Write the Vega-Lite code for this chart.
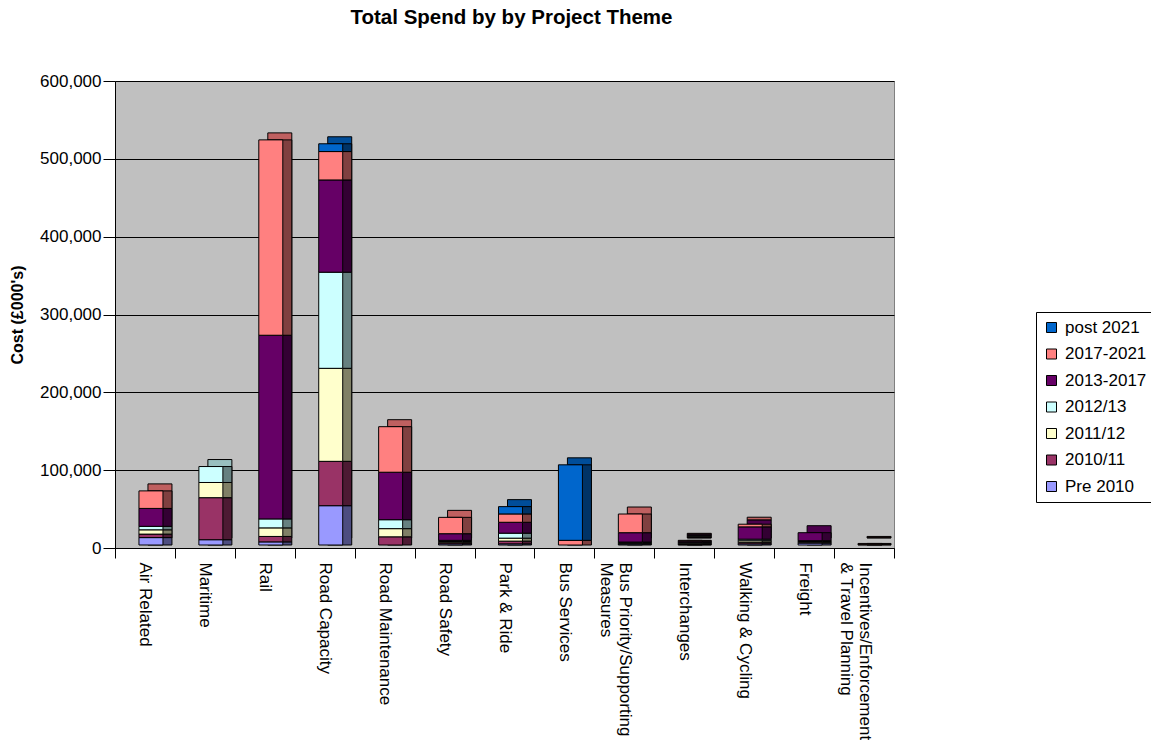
{
  "$schema": "https://vega.github.io/schema/vega-lite/v6.json",
  "width": 779,
  "height": 467,
  "autosize": {"type": "none"},
  "padding": {"left": 115, "top": 81, "right": 257, "bottom": 196},
  "background": "white",
  "config": {
    "font": "Liberation Sans",
    "view": {"fill": "#C0C0C0", "stroke": "#808080"},
    "legend": {
      "orient": "none",
      "legendX": 921,
      "legendY": 231,
      "labelFontSize": 17,
      "labelColor": "black",
      "symbolType": "square",
      "symbolSize": 100,
      "symbolStrokeColor": "black",
      "symbolStrokeWidth": 1,
      "strokeColor": "black",
      "fillColor": "white",
      "padding": 7,
      "rowPadding": 8.5,
      "labelOffset": 5,
      "symbolOpacity": 1
    }
  },
  "title": {
    "text": "Total Spend by by Project Theme",
    "fontSize": 20.5,
    "fontWeight": "bold",
    "color": "black",
    "anchor": "middle",
    "offset": 44,
    "dx": 7
  },
  "datasets": {
    "periods": [
      {"period": "Pre 2010", "rank": 1},
      {"period": "2010/11", "rank": 2},
      {"period": "2011/12", "rank": 3},
      {"period": "2012/13", "rank": 4},
      {"period": "2013-2017", "rank": 5},
      {"period": "2017-2021", "rank": 6},
      {"period": "post 2021", "rank": 7}
    ],
    "spend": [
      {"theme": "Air Related", "period": "Pre 2010", "cost": 9500},
      {"theme": "Air Related", "period": "2010/11", "cost": 4500},
      {"theme": "Air Related", "period": "2011/12", "cost": 5500},
      {"theme": "Air Related", "period": "2012/13", "cost": 4500},
      {"theme": "Air Related", "period": "2013-2017", "cost": 23000},
      {"theme": "Air Related", "period": "2017-2021", "cost": 22500},
      {"theme": "Maritime", "period": "Pre 2010", "cost": 6800},
      {"theme": "Maritime", "period": "2010/11", "cost": 54000},
      {"theme": "Maritime", "period": "2011/12", "cost": 19500},
      {"theme": "Maritime", "period": "2012/13", "cost": 20500},
      {"theme": "Rail", "period": "Pre 2010", "cost": 4000},
      {"theme": "Rail", "period": "2010/11", "cost": 7000},
      {"theme": "Rail", "period": "2011/12", "cost": 11000},
      {"theme": "Rail", "period": "2012/13", "cost": 11500},
      {"theme": "Rail", "period": "2013-2017", "cost": 236000},
      {"theme": "Rail", "period": "2017-2021", "cost": 251000},
      {"theme": "Road Capacity", "period": "Pre 2010", "cost": 50500},
      {"theme": "Road Capacity", "period": "2010/11", "cost": 57000},
      {"theme": "Road Capacity", "period": "2011/12", "cost": 119500},
      {"theme": "Road Capacity", "period": "2012/13", "cost": 123500},
      {"theme": "Road Capacity", "period": "2013-2017", "cost": 118500},
      {"theme": "Road Capacity", "period": "2017-2021", "cost": 36500},
      {"theme": "Road Capacity", "period": "post 2021", "cost": 10000},
      {"theme": "Road Maintenance", "period": "2010/11", "cost": 10500},
      {"theme": "Road Maintenance", "period": "2011/12", "cost": 10500},
      {"theme": "Road Maintenance", "period": "2012/13", "cost": 11500},
      {"theme": "Road Maintenance", "period": "2013-2017", "cost": 61000},
      {"theme": "Road Maintenance", "period": "2017-2021", "cost": 58500},
      {"theme": "Road Safety", "period": "Pre 2010", "cost": 1500},
      {"theme": "Road Safety", "period": "2010/11", "cost": 1500},
      {"theme": "Road Safety", "period": "2011/12", "cost": 1500},
      {"theme": "Road Safety", "period": "2012/13", "cost": 1500},
      {"theme": "Road Safety", "period": "2013-2017", "cost": 8500},
      {"theme": "Road Safety", "period": "2017-2021", "cost": 21000},
      {"theme": "Park & Ride", "period": "Pre 2010", "cost": 1500},
      {"theme": "Park & Ride", "period": "2010/11", "cost": 3500},
      {"theme": "Park & Ride", "period": "2011/12", "cost": 3800},
      {"theme": "Park & Ride", "period": "2012/13", "cost": 6400},
      {"theme": "Park & Ride", "period": "2013-2017", "cost": 14000},
      {"theme": "Park & Ride", "period": "2017-2021", "cost": 10700},
      {"theme": "Park & Ride", "period": "post 2021", "cost": 9400},
      {"theme": "Bus Services", "period": "2017-2021", "cost": 6000},
      {"theme": "Bus Services", "period": "post 2021", "cost": 97000},
      {"theme": "Bus Priority/Supporting Measures", "period": "Pre 2010", "cost": 1200},
      {"theme": "Bus Priority/Supporting Measures", "period": "2010/11", "cost": 1000},
      {"theme": "Bus Priority/Supporting Measures", "period": "2011/12", "cost": 800},
      {"theme": "Bus Priority/Supporting Measures", "period": "2012/13", "cost": 800},
      {"theme": "Bus Priority/Supporting Measures", "period": "2013-2017", "cost": 12000},
      {"theme": "Bus Priority/Supporting Measures", "period": "2017-2021", "cost": 24000},
      {"theme": "Interchanges", "period": "Pre 2010", "cost": 500},
      {"theme": "Interchanges", "period": "2010/11", "cost": 1000},
      {"theme": "Interchanges", "period": "2011/12", "cost": 1000},
      {"theme": "Interchanges", "period": "2012/13", "cost": 1000},
      {"theme": "Interchanges", "period": "2013-2017", "cost": 1500},
      {"theme": "Interchanges", "period": "2017-2021", "cost": 1000},
      {"theme": "Walking & Cycling", "period": "Pre 2010", "cost": 1500},
      {"theme": "Walking & Cycling", "period": "2010/11", "cost": 2000},
      {"theme": "Walking & Cycling", "period": "2011/12", "cost": 2000},
      {"theme": "Walking & Cycling", "period": "2012/13", "cost": 2000},
      {"theme": "Walking & Cycling", "period": "2013-2017", "cost": 15800},
      {"theme": "Walking & Cycling", "period": "2017-2021", "cost": 3400},
      {"theme": "Freight", "period": "Pre 2010", "cost": 2500},
      {"theme": "Freight", "period": "2010/11", "cost": 1000},
      {"theme": "Freight", "period": "2011/12", "cost": 1000},
      {"theme": "Freight", "period": "2012/13", "cost": 1000},
      {"theme": "Freight", "period": "2013-2017", "cost": 10300},
      {"theme": "Incentives/Enforcement & Travel Planning", "period": "2013-2017", "cost": 500},
      {"theme": "Incentives/Enforcement & Travel Planning", "period": "2017-2021", "cost": 1500}
    ]
  },
  "data": {"name": "spend"},
  "transform": [
    {"lookup": "period", "from": {"data": {"name": "periods"}, "key": "period", "fields": ["rank"]}}
  ],
  "encoding": {
    "x": {
      "field": "theme",
      "type": "nominal",
      "sort": null,
      "scale": {"paddingInner": 0, "paddingOuter": 0},
      "axis": {
        "title": null,
        "labelAngle": 90,
        "labelFontSize": 17,
        "labelColor": "black",
        "labelLimit": 400,
        "labelPadding": 4,
        "tickBand": "extent",
        "tickSize": 10,
        "tickColor": "black",
        "domainColor": "black",
        "grid": false,
        "labelExpr": "datum.label == 'Bus Priority/Supporting Measures' ? ['Bus Priority/Supporting', 'Measures'] : datum.label == 'Incentives/Enforcement & Travel Planning' ? ['Incentives/Enforcement', '& Travel Planning'] : datum.label"
      }
    },
    "y": {
      "field": "cost",
      "type": "quantitative",
      "stack": "zero",
      "scale": {"domain": [0, 600000], "nice": false},
      "axis": {
        "title": "Cost (£000's)",
        "titleFontSize": 16,
        "titleFontWeight": "bold",
        "titleColor": "black",
        "titlePadding": 14,
        "labelFontSize": 17,
        "labelColor": "black",
        "format": ",d",
        "values": [0, 100000, 200000, 300000, 400000, 500000, 600000],
        "tickSize": 12,
        "tickColor": "black",
        "domainColor": "black",
        "grid": true,
        "gridColor": "black",
        "gridOpacity": 1,
        "labelPadding": 2
      }
    },
    "order": {"field": "rank", "type": "quantitative"}
  },
  "layer": [
    {
      "mark": {"type": "bar", "size": 24, "xOffset": 15, "yOffset": -10, "stroke": "black", "strokeWidth": 1},
      "encoding": {
        "color": {
          "field": "period",
          "type": "nominal",
          "legend": null,
          "scale": {
            "domain": ["post 2021", "2017-2021", "2013-2017", "2012/13", "2011/12", "2010/11", "Pre 2010"],
            "range": ["#004D99", "#BF6060", "#4D004D", "#99BFBF", "#BFBF99", "#73264D", "#7373BF"]
          }
        }
      }
    },
    {
      "mark": {"type": "bar", "size": 24, "xOffset": 15, "yOffset": -3, "stroke": "black", "strokeWidth": 1},
      "encoding": {
        "color": {
          "field": "period",
          "type": "nominal",
          "legend": null,
          "scale": {
            "domain": ["post 2021", "2017-2021", "2013-2017", "2012/13", "2011/12", "2010/11", "Pre 2010"],
            "range": ["#003366", "#804040", "#330033", "#668080", "#808066", "#4D1A33", "#4D4D80"]
          }
        }
      }
    },
    {
      "mark": {"type": "bar", "size": 24, "xOffset": 6, "yOffset": -3, "stroke": "black", "strokeWidth": 1},
      "encoding": {
        "color": {
          "field": "period",
          "type": "nominal",
          "title": null,
          "scale": {
            "domain": ["post 2021", "2017-2021", "2013-2017", "2012/13", "2011/12", "2010/11", "Pre 2010"],
            "range": ["#0066CC", "#FF8080", "#660066", "#CCFFFF", "#FFFFCC", "#993366", "#9999FF"]
          }
        }
      }
    }
  ],
  "resolve": {"scale": {"color": "independent"}, "legend": {"color": "independent"}}
}
